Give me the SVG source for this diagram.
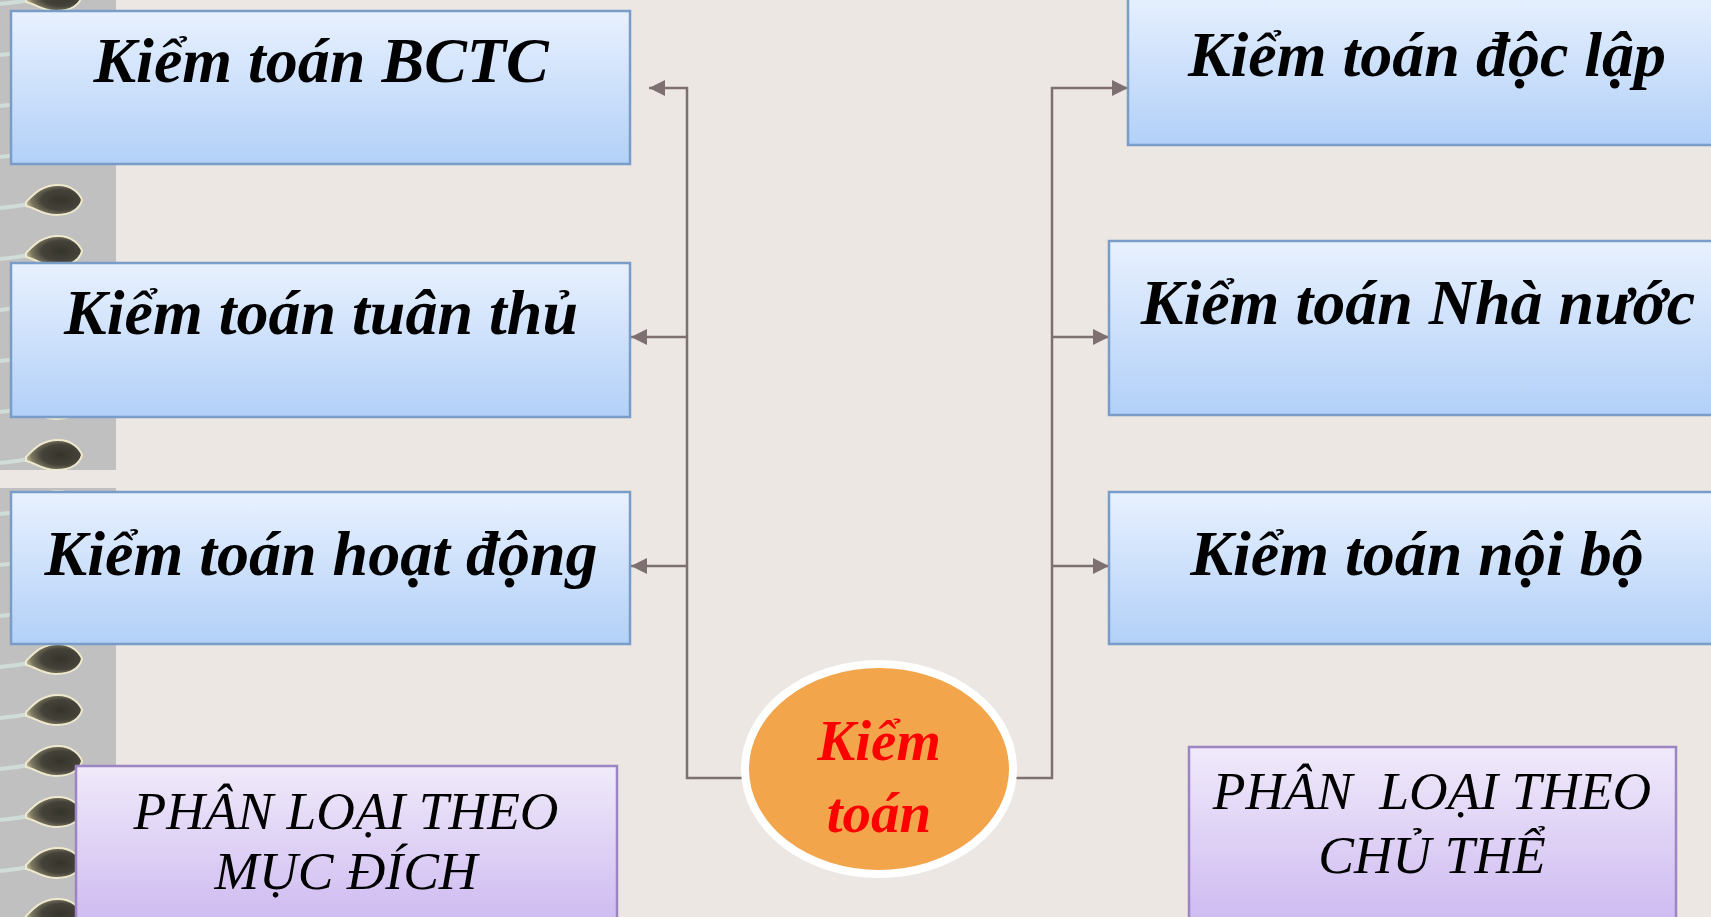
<svg xmlns="http://www.w3.org/2000/svg" width="1711" height="917" viewBox="0 0 1711 917">
  <style>
    .bg { fill: #ECE7E3; }
    .strip { fill: #C0C0C0; }
    .blue { fill: url(#gBlue); stroke: #7A9CC8; stroke-width: 2.5; }
    .purple { fill: url(#gPurple); stroke: #9C85C2; stroke-width: 2.5; }
    .lbl { font-family: "Liberation Serif", "Times New Roman", serif; font-weight: bold; font-style: italic; font-size: 64px; fill: #000; text-anchor: middle; }
    .cat { font-family: "Liberation Serif", "Times New Roman", serif; font-style: italic; font-size: 53.5px; fill: #000; text-anchor: middle; }
    .core { font-family: "Liberation Serif", "Times New Roman", serif; font-weight: bold; font-style: italic; font-size: 57px; fill: #FF0000; text-anchor: middle; }
    .wire { fill: none; stroke: #7E7070; stroke-width: 2.5; }
  </style>
  <defs>
    <linearGradient id="gBlue" x1="0" y1="0" x2="0" y2="1">
      <stop offset="0" stop-color="#E8F1FE"/>
      <stop offset="1" stop-color="#B2D0F8"/>
    </linearGradient>
    <linearGradient id="gPurple" x1="0" y1="0" x2="0" y2="1">
      <stop offset="0" stop-color="#F0EAFA"/>
      <stop offset="1" stop-color="#CBB6F0"/>
    </linearGradient>
    <radialGradient id="gHead" cx="0.62" cy="0.5" r="0.62">
      <stop offset="0" stop-color="#35342b"/>
      <stop offset="0.55" stop-color="#45423a"/>
      <stop offset="0.85" stop-color="#7d7862"/>
      <stop offset="1" stop-color="#b8b294"/>
    </radialGradient>
    <marker id="arr" viewBox="0 0 16 16" refX="16" refY="8" markerWidth="16" markerHeight="16" markerUnits="userSpaceOnUse" orient="auto">
      <path d="M0,0 L16,8 L0,16 Z" fill="#7E7070"/>
    </marker>
    <g id="tad">
      <path d="M0,8 C10,7 18,6 30,4" fill="none" stroke="#CFDCD8" stroke-width="4"/>
      <path d="M26,2 C34,-6 42,-15 58,-15 C72,-15 80,-6 82,0 C80,8 72,15 56,15 C42,15 36,8 26,6 Z" fill="url(#gHead)" stroke="#EEE8CC" stroke-width="2"/>
    </g>
    <clipPath id="stripClip">
      <rect x="0" y="0" width="116" height="470"/>
      <rect x="0" y="488" width="116" height="429"/>
    </clipPath>
  </defs>

  <!-- page background and decorative side strip -->
  <rect class="bg" x="0" y="0" width="1711" height="917"/>
  <g id="side-strip" clip-path="url(#stripClip)">
    <rect class="strip" x="0" y="0" width="116" height="917"/>
    <use href="#tad" y="-4"/>
    <use href="#tad" y="47"/>
    <use href="#tad" y="98"/>
    <use href="#tad" y="149"/>
    <use href="#tad" y="200"/>
    <use href="#tad" y="251"/>
    <use href="#tad" y="302"/>
    <use href="#tad" y="353"/>
    <use href="#tad" y="404"/>
    <use href="#tad" y="455"/>
    <use href="#tad" y="506"/>
    <use href="#tad" y="557"/>
    <use href="#tad" y="608"/>
    <use href="#tad" y="659"/>
    <use href="#tad" y="710"/>
    <use href="#tad" y="761"/>
    <use href="#tad" y="812"/>
    <use href="#tad" y="863"/>
    <use href="#tad" y="914"/>
  </g>

  <!-- connectors -->
  <g id="connectors">
    <path class="wire" d="M742,778 H687 V88 H649" marker-end="url(#arr)"/>
    <path class="wire" d="M687,337 H631" marker-end="url(#arr)"/>
    <path class="wire" d="M687,566 H631" marker-end="url(#arr)"/>
    <path class="wire" d="M1015,778 H1052 V88 H1128" marker-end="url(#arr)"/>
    <path class="wire" d="M1052,337 H1109" marker-end="url(#arr)"/>
    <path class="wire" d="M1052,566 H1109" marker-end="url(#arr)"/>
  </g>

  <!-- purpose branch -->
  <g id="node-bctc">
    <rect class="blue" x="11" y="11" width="619" height="153"/>
    <text class="lbl" x="321" y="82">Kiểm toán BCTC</text>
  </g>
  <g id="node-tuanthu">
    <rect class="blue" x="11" y="263" width="619" height="154"/>
    <text class="lbl" x="321" y="334">Kiểm toán tuân thủ</text>
  </g>
  <g id="node-hoatdong">
    <rect class="blue" x="11" y="492" width="619" height="152"/>
    <text class="lbl" x="321" y="575">Kiểm toán hoạt động</text>
  </g>

  <!-- subject branch -->
  <g id="node-doclap">
    <rect class="blue" x="1128" y="-10" width="600" height="155"/>
    <text class="lbl" x="1427" y="76">Kiểm toán độc lập</text>
  </g>
  <g id="node-nhanuoc">
    <rect class="blue" x="1109" y="241" width="620" height="174"/>
    <text class="lbl" x="1418" y="324">Kiểm toán Nhà nước</text>
  </g>
  <g id="node-noibo">
    <rect class="blue" x="1109" y="492" width="620" height="152"/>
    <text class="lbl" x="1417" y="575">Kiểm toán nội bộ</text>
  </g>

  <!-- centre node -->
  <g id="node-kiemtoan">
    <ellipse cx="879" cy="769" rx="134" ry="105" fill="#F2A54A" stroke="#FFFFFF" stroke-width="8"/>
    <text class="core" x="879" y="760">Kiểm</text>
    <text class="core" x="879" y="832">toán</text>
  </g>

  <!-- category captions -->
  <g id="cap-mucdich">
    <rect class="purple" x="76" y="766" width="541" height="170"/>
    <text class="cat" x="346" y="829">PHÂN LOẠI THEO</text>
    <text class="cat" x="346" y="889">MỤC ĐÍCH</text>
  </g>
  <g id="cap-chuthe">
    <rect class="purple" x="1189" y="747" width="487" height="190"/>
    <text class="cat" x="1432" y="809" xml:space="preserve">PHÂN  LOẠI THEO</text>
    <text class="cat" x="1432" y="873">CHỦ THỂ</text>
  </g>
</svg>
